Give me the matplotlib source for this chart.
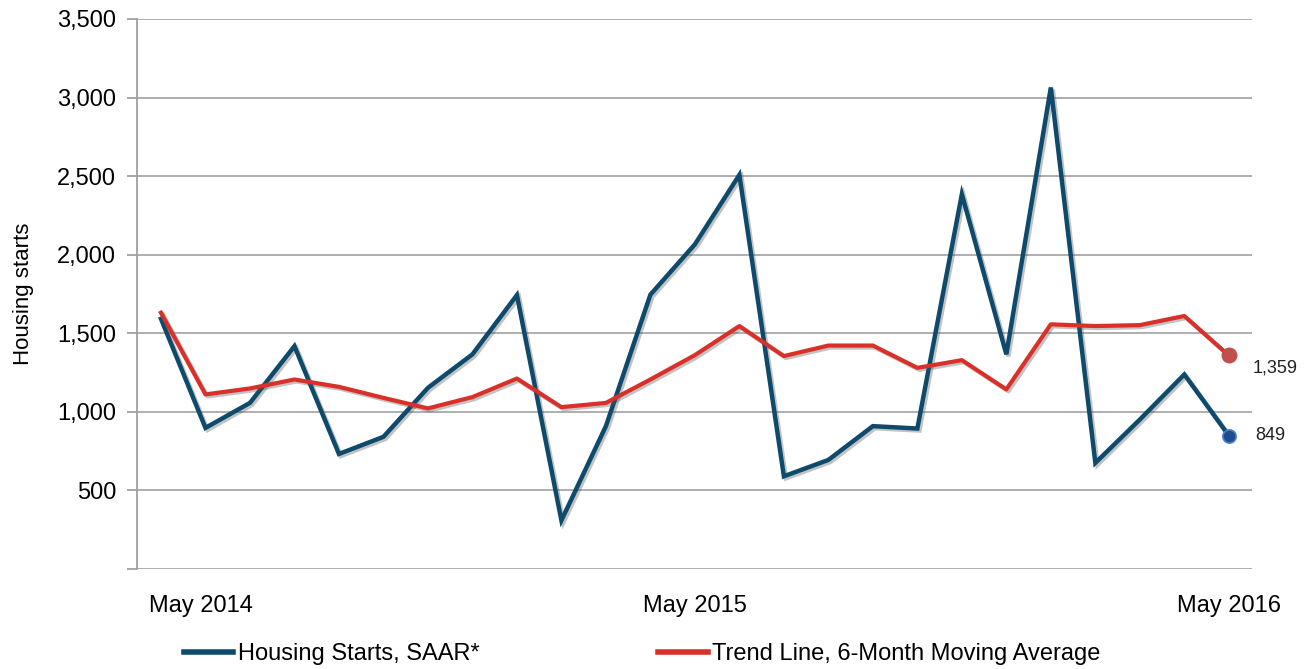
import matplotlib
matplotlib.use("Agg")
import matplotlib.pyplot as plt
import matplotlib.patheffects as pe
import matplotlib.transforms as mtransforms

# monthly data, May 2014 .. May 2016
months = list(range(25))
tick_pos = [0, 12, 24]
tick_labels = ["May 2014", "May 2015", "May 2016"]

housing_starts = [1592, 898, 1057, 1418, 732, 841, 1153, 1366, 1743, 309,
                  909, 1746, 2066, 2508, 590, 694, 909, 894, 2385, 1366,
                  3064, 675, 951, 1238, 849]
trend_6m = [1631, 1111, 1149, 1206, 1159, 1089, 1022, 1094, 1212, 1030,
            1057, 1206, 1361, 1546, 1355, 1422, 1422, 1280, 1329, 1143,
            1557, 1546, 1552, 1610, 1359]

y_ticks = [0, 500, 1000, 1500, 2000, 2500, 3000, 3500]

BLUE = "#0d4a6b"
RED = "#d9302a"

plt.rcParams["font.family"] = ["Liberation Sans", "DejaVu Sans"]

fig = plt.figure(figsize=(13.13, 6.69), dpi=100)
ax = fig.add_axes([0.1043, 0.1495, 0.8492, 0.8221])

shadow = [pe.SimpleLineShadow(offset=(1.5, -1.5), alpha=0.35, shadow_color="#555555"),
          pe.Normal()]

ax.plot(months, housing_starts, color=BLUE, lw=3.2, solid_joinstyle="miter",
        path_effects=shadow, label="Housing Starts, SAAR*", zorder=3)
ax.plot(months, trend_6m, color=RED, lw=3.0,
        path_effects=shadow, label="Trend Line, 6-Month Moving Average", zorder=4)

# end point markers + labels
ax.scatter([months[-1]], [trend_6m[-1]], s=110, color="#c0504d", zorder=5)
ax.scatter([months[-1]], [housing_starts[-1]], s=90, color="#1f4e8c",
           edgecolors="#4a7fd0", linewidths=1.2, zorder=5)
ax.annotate(f"{trend_6m[-1]:,}", (months[-1], trend_6m[-1]), xytext=(17, -9),
            textcoords="offset points", ha="left", va="center", fontsize=13,
            color="#222222")
ax.annotate(f"{housing_starts[-1]:,}", (months[-1], housing_starts[-1]), xytext=(19, 0),
            textcoords="offset points", ha="left", va="center", fontsize=13,
            color="#222222")

ax.set_xlim(-0.54, 24.52)
ax.set_ylim(0, 3500)
ax.set_yticks(y_ticks)
ax.set_yticklabels([""] + [f"{v:,}" for v in y_ticks[1:]], fontsize=17)
ax.set_xticks(tick_pos)
ax.set_xticklabels(tick_labels, fontsize=17)
ax.tick_params(axis="x", length=0, pad=19)
ax.tick_params(axis="y", length=7, color="#a0a0a0", width=1.3, pad=8)

# first label sits a bit to the right of its point
shift = mtransforms.ScaledTranslation(0.4, 0, fig.dpi_scale_trans)
lab0 = ax.get_xticklabels()[0]
lab0.set_transform(lab0.get_transform() + shift)

ax.grid(axis="y", color="#a8a8a8", lw=1.3)
ax.set_axisbelow(True)
for s in ["top", "right", "bottom"]:
    ax.spines[s].set_visible(False)
ax.spines["left"].set_color("#a0a0a0")
ax.spines["left"].set_linewidth(1.3)

ax.set_ylabel("Housing starts", fontsize=16, labelpad=17)

leg = fig.legend(loc="center left", bbox_to_anchor=(0.131, 0.022), ncol=2,
                 frameon=False, fontsize=17, handlelength=2.1, handletextpad=0.2,
                 columnspacing=7.55, borderpad=0)
for line in leg.get_lines():
    line.set_linewidth(4)
    line.set_path_effects([])

fig.savefig("out.png", dpi=100)
